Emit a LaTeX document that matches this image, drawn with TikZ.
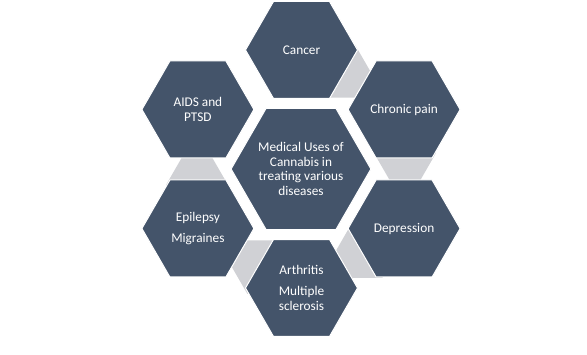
\documentclass[tikz,border=0pt]{standalone}
\usepackage{fontspec}
\setmainfont{Carlito}
\usetikzlibrary{shapes.geometric}
\definecolor{hexdark}{RGB}{68,84,106}
\definecolor{hexgrey}{RGB}{208,209,213}
\begin{document}
\begin{tikzpicture}[x=1pt,y=-1pt,
  hexbase/.style={regular polygon, regular polygon sides=6, inner sep=0pt, outer sep=0pt},
  outerhex/.style={hexbase, minimum size=112pt, fill=hexdark, draw=white, line width=1pt,
    text=white, align=center, font=\fontsize{13.3}{14.7}\selectfont},
  centerhex/.style={outerhex, minimum size=136pt},
  connhex/.style={hexbase, minimum size=62pt, fill=hexgrey}]
  \path[use as bounding box, fill=white] (0,0) rectangle (587,355);
  % grey connector hexagons
  \node[connhex] (g1) at (339.1,70.9) {};
  \node[connhex] (g2) at (405.0,153.0) {};
  \node[connhex] (g3) at (366.8,251.0) {};
  \node[connhex] (g4) at (262.9,267.1) {};
  \node[connhex] (g5) at (197.0,185.0) {};
  % main hexagons
  \node[centerhex] (center) at (301,169) {Medical Uses of\\Cannabis in\\treating various\\diseases};
  \node[outerhex] (cancer) at (301.5,50) {Cancer};
  \node[outerhex] (chronic) at (404.1,109.5) {Chronic pain};
  \node[outerhex] (depression) at (404.1,228.5) {Depression};
  \node[outerhex] (arthritis) at (301.5,288) {Arthritis\\[5.8pt]Multiple\\sclerosis};
  \node[outerhex] (epilepsy) at (197.9,228.5) {Epilepsy\\[5.8pt]Migraines};
  \node[outerhex] (aids) at (197.9,109.5) {AIDS and\\PTSD};
\end{tikzpicture}
\end{document}
